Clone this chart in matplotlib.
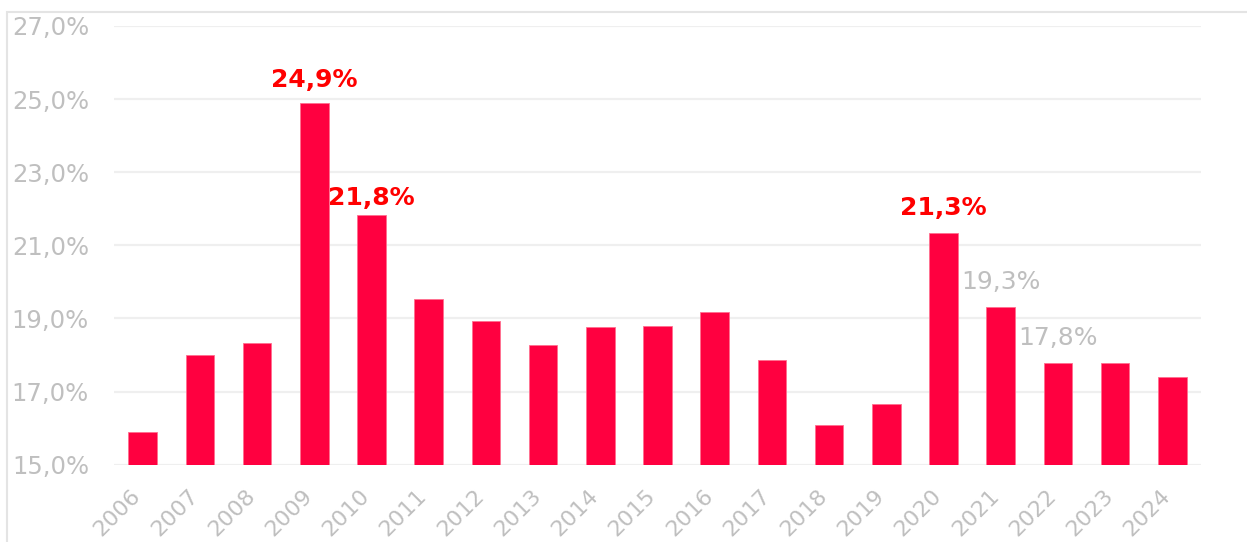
import matplotlib
matplotlib.use("Agg")
import matplotlib.pyplot as plt
from matplotlib.patches import Rectangle
from matplotlib.transforms import ScaledTranslation

# ---- data ----
years = [2006, 2007, 2008, 2009, 2010, 2011, 2012, 2013, 2014, 2015,
         2016, 2017, 2018, 2019, 2020, 2021, 2022, 2023, 2024]
values = [15.90, 18.00, 18.33, 24.90, 21.84, 19.52, 18.93, 18.27, 18.76, 18.79,
          19.18, 17.87, 16.08, 16.67, 21.34, 19.32, 17.77, 17.79, 17.39]
red_labels = [2009, 2010, 2020]
gray_labels = [2021, 2022]
y_ticks = [15, 17, 19, 21, 23, 25, 27]

# ---- style ----
BAR = "#FF0040"
GRID = "#EFEFEF"
TXT = "#BFBFBF"
RED = "#FF0000"

plt.rcParams['font.family'] = ['DejaVu Sans']

W, H = 1247, 542
fig = plt.figure(figsize=(W / 100, H / 100), dpi=100)
ax = fig.add_axes([114 / W, 1 - 464.7 / H, (1201 - 114) / W, (464.7 - 26) / H])

x = list(range(len(years)))
ax.bar(x, values, width=0.5, color=BAR, edgecolor="#FF6F8F", linewidth=0.6, zorder=3)

ax.set_ylim(15, 27)
ax.set_xlim(-0.5, len(years) - 0.5)
ax.set_yticks(y_ticks)
ax.set_yticklabels([f"{t:.1f}%".replace(".", ",") for t in y_ticks])
ax.yaxis.grid(True, color=GRID, linewidth=1.6, zorder=0)
ax.tick_params(axis='y', length=0, pad=18, labelsize=17.5, labelcolor=TXT)
ax.set_xticks(x)
ax.set_xticklabels([str(y) for y in years], rotation=45, ha='right',
                   va='center', rotation_mode='anchor')
ax.tick_params(axis='x', length=0, pad=20, labelsize=16, labelcolor=TXT)
shift = ScaledTranslation(-5 / 100, 0, fig.dpi_scale_trans)
for lbl in ax.get_xticklabels():
    lbl.set_transform(lbl.get_transform() + shift)
for s in ax.spines.values():
    s.set_visible(False)

def fmt(v):
    return f"{v:.1f}%".replace(".", ",")

offsets = {2009: 23, 2010: 17}
for i, (yr, v) in enumerate(zip(years, values)):
    if yr in red_labels:
        ax.annotate(fmt(v), (i, v), xytext=(0, offsets.get(yr, 25)),
                    textcoords='offset pixels', ha='center', va='center',
                    color=RED, fontsize=18, fontweight='bold', zorder=5)
    elif yr in gray_labels:
        ax.annotate(fmt(v), (i, v), xytext=(0, offsets.get(yr, 25)),
                    textcoords='offset pixels', ha='center', va='center',
                    color=TXT, fontsize=18, zorder=5)

# outer border (extends beyond the image on right and bottom)
fig.patches.append(Rectangle((7 / W, -0.1), 1.2, 1 - 12 / H + 0.1,
                             transform=fig.transFigure, fill=False,
                             edgecolor="#E4E4E4", linewidth=1.5))

fig.savefig("out.png", dpi=100)
